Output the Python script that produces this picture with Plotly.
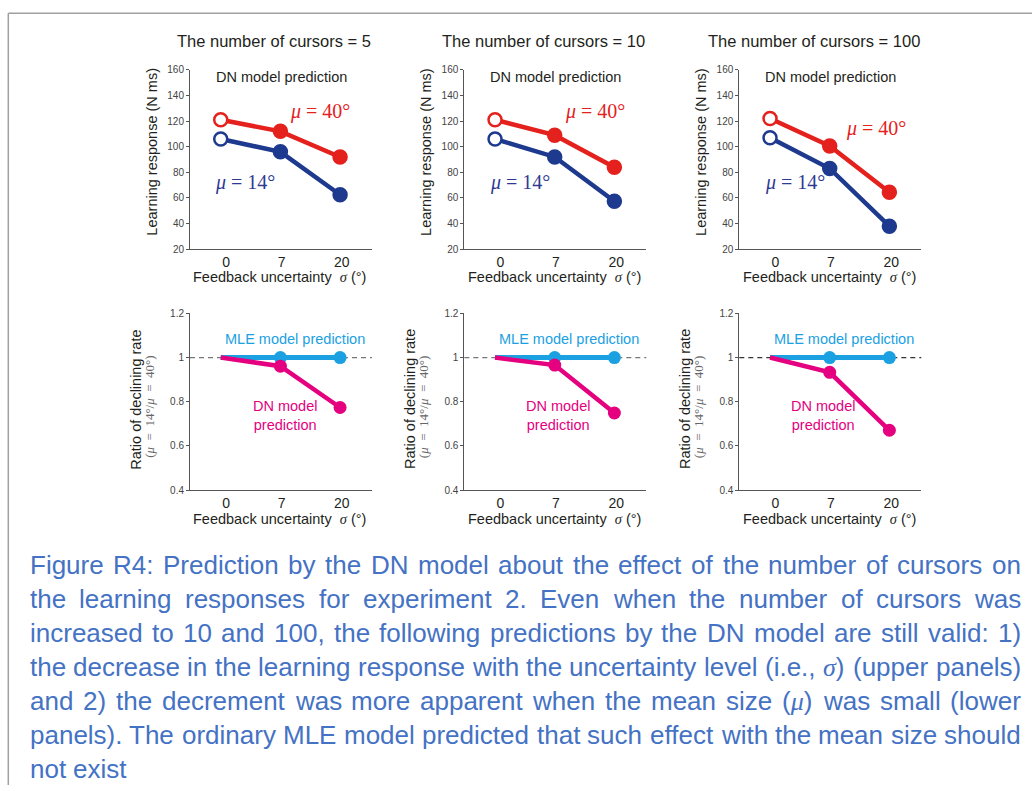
import plotly.graph_objects as go

W, H = 1032, 791

# ---------------- data ----------------
CURSORS = [5, 10, 100]
SIGMA_LABELS = ["0", "7", "20"]
SIGMA_IDX = [0, 1, 2]

# upper panels: learning response (N ms), DN model prediction
RESP_MU40 = [[121, 112, 92], [121, 109, 84], [122, 100.5, 64.5]]
RESP_MU14 = [[106, 96, 62.5], [106, 92, 57.5], [107, 83, 38]]

# lower panels: ratio of declining rate (mu=14 / mu=40)
RATIO_DN = [[1.0, 0.961, 0.774], [1.0, 0.966, 0.749], [1.0, 0.933, 0.671]]
RATIO_MLE = [[1.0, 1.0, 1.0], [1.0, 1.0, 1.0], [1.0, 1.0, 1.0]]

Y_TOP_TICKS = [20, 40, 60, 80, 100, 120, 140, 160]
Y_BOT_TICKS = [0.4, 0.6, 0.8, 1.0, 1.2]
Y_BOT_TICKTEXT = ["0.4", "0.6", "0.8", "1", "1.2"]

CAPTION_LINES = [
    "Figure R4: Prediction by the DN model about the effect of the number of cursors on",
    "the learning responses for experiment 2. Even when the number of cursors was",
    "increased to 10 and 100, the following predictions by the DN model are still valid: 1)",
    "the decrease in the learning response with the uncertainty level (i.e., σ) (upper panels)",
    "and 2) the decrement was more apparent when the mean size (μ) was small (lower",
    "panels). The ordinary MLE model predicted that such effect with the mean size should",
    "not exist",
]

# ---------------- style / layout ----------------
SANS = "Liberation Sans, Arial, sans-serif"
SERIF = "Liberation Serif, Times New Roman, serif"
RED = "#E4211C"
NAVY = "#1E3A8F"
NAVY_TXT = "#2E3A92"
CYAN = "#1BA1E2"
MAGENTA = "#E4007F"
DARK = "#231F20"
CAP_COLOR = "#4472C4"

COL_LEFT = [190, 464.3, 739.3]
AX_W = 182
ROWS = [(65.7, 247.7), (312.7, 492.0)]
X_RANGE = [-0.515, 2.535]
TICK_POS = [0.09, 1.02, 2.03]
NB = "\u00a0"


def px(x):
    return x / W


def py(y):
    return 1 - y / H


def ann(text, x, y, size, color, family=SANS, xanchor="center", yanchor="middle", angle=0):
    return dict(text=text, x=px(x), y=py(y), xref="paper", yref="paper", showarrow=False,
                font=dict(size=size, color=color, family=family), xanchor=xanchor,
                yanchor=yanchor, textangle=angle, borderpad=0, borderwidth=0)


fig = go.Figure()
layout = dict(width=W, height=H, margin=dict(l=0, r=0, t=0, b=0),
              paper_bgcolor="white", plot_bgcolor="white", showlegend=False,
              font=dict(family=SANS, color=DARK))
annotations = []
shapes = []

sig_html = "<span style='font-family:Liberation Serif'><i>σ</i></span>"
ratio_lbl = (f"(<i>μ</i>{NB}{NB}={NB}{NB}14°/<i>μ</i>{NB}{NB}={NB}{NB}40°)")

for r in range(2):
    for c in range(3):
        k = r * 3 + c + 1
        xa = "x" if k == 1 else f"x{k}"
        ya = "y" if k == 1 else f"y{k}"
        L = COL_LEFT[c]
        top, bot = ROWS[r]
        layout["xaxis" if k == 1 else f"xaxis{k}"] = dict(
            domain=[px(L), px(L + AX_W)], anchor=ya, range=X_RANGE,
            showline=True, linecolor="#555", linewidth=1, ticks="",
            tickvals=TICK_POS, ticktext=SIGMA_LABELS,
            tickfont=dict(size=14, color=DARK), showgrid=False, zeroline=False)
        if r == 0:
            yax = dict(range=[20, 160], tickvals=Y_TOP_TICKS)
        else:
            yax = dict(range=[0.4, 1.2], tickvals=Y_BOT_TICKS, ticktext=Y_BOT_TICKTEXT)
        yax.update(domain=[py(bot), py(top)], anchor=xa, showline=True, linecolor="#555",
                   linewidth=1, ticks="outside", ticklen=3, tickcolor="#555",
                   tickfont=dict(size=10, color="#444"), showgrid=False, zeroline=False)
        layout["yaxis" if k == 1 else f"yaxis{k}"] = yax

        if r == 0:
            fig.add_trace(go.Scatter(
                x=SIGMA_IDX, y=RESP_MU40[c], xaxis=xa, yaxis=ya, mode="lines+markers",
                line=dict(color=RED, width=4.5),
                marker=dict(size=13, opacity=1, color=["white", RED, RED],
                            line=dict(color=RED, width=2.5))))
            fig.add_trace(go.Scatter(
                x=SIGMA_IDX, y=RESP_MU14[c], xaxis=xa, yaxis=ya, mode="lines+markers",
                line=dict(color=NAVY, width=4.5),
                marker=dict(size=13, opacity=1, color=["white", NAVY, NAVY],
                            line=dict(color=NAVY, width=2.5))))
            annotations.append(ann(f"The number of cursors = {CURSORS[c]}", L + 180.5, 36.5, 16.5,
                                   DARK, xanchor="right"))
            annotations.append(ann("DN model prediction", L + 91, 73.5, 14.5, DARK))
            mu40_pos = [(129.5, 108), (130.2, 108), (137, 125)][c]
            annotations.append(ann("<i>μ</i> = 40°", L + mu40_pos[0], mu40_pos[1], 20, RED,
                                   family=SERIF))
            annotations.append(ann("<i>μ</i> = 14°", L + 55.3, 180, 20, NAVY_TXT, family=SERIF))
            annotations.append(ann("Learning response (N ms)", L - 38.3, 149, 14.5, DARK, angle=-90))
            annotations.append(ann(f"Feedback uncertainty  {sig_html} (°)", L + 89.7, 276, 14.5, DARK))
        else:
            dash_col = "#777" if c < 2 else "#333"
            shapes.append(dict(type="line", xref=f"{xa} domain", yref=ya, x0=0, x1=1, y0=1, y1=1,
                               line=dict(color=dash_col, width=1.2, dash="5px,4px"), layer="below"))
            fig.add_trace(go.Scatter(
                x=SIGMA_IDX, y=RATIO_MLE[c], xaxis=xa, yaxis=ya, mode="lines+markers",
                line=dict(color=CYAN, width=5),
                marker=dict(size=[0, 13, 13], opacity=1, color=CYAN, line=dict(width=0))))
            fig.add_trace(go.Scatter(
                x=SIGMA_IDX, y=RATIO_DN[c], xaxis=xa, yaxis=ya, mode="lines+markers",
                line=dict(color=MAGENTA, width=4.5),
                marker=dict(size=[0, 13, 13], opacity=1, color=MAGENTA, line=dict(width=0))))
            annotations.append(ann("MLE model prediction", L + 104.5, 338.5, 14.5, CYAN))
            dn_x = [95, 94, 84][c]
            annotations.append(ann("DN model<br>prediction", L + dn_x, 416, 14.5, MAGENTA))
            annotations.append(ann("Ratio of declining rate", L - 53.7, 400, 14.5, DARK, angle=-90))
            annotations.append(ann(ratio_lbl, L - 40.5, 408, 13, "#666",
                                   family=SERIF, angle=-90))
            annotations.append(ann(f"Feedback uncertainty  {sig_html} (°)", L + 89.7, 521.5, 14.5, DARK))

# ---------------- justified caption ----------------
CW = {}
for ch, w in zip("abcdefghijklmnopqrstuvwxyz",
                 [556, 556, 500, 556, 556, 278, 556, 556, 222, 222, 500, 222, 833, 556, 556, 556,
                  556, 333, 500, 278, 556, 500, 722, 500, 500, 500]):
    CW[ch] = w
for ch, w in zip("ABCDEFGHIJKLMNOPQRSTUVWXYZ",
                 [667, 667, 722, 722, 667, 611, 778, 722, 278, 500, 667, 556, 833, 722, 778, 667,
                  778, 722, 667, 611, 722, 667, 944, 667, 667, 611]):
    CW[ch] = w
for ch in "0123456789":
    CW[ch] = 556
CW.update({" ": 278, ".": 278, ",": 278, ":": 278, "(": 333, ")": 333, "-": 333,
           "σ": 560, "μ": 560})

CAP_FS = 26
CAP_L, CAP_R = 29.5, 1021
CAP_Y0, CAP_DY = 568, 34.4


def word_w(s):
    return sum(CW.get(ch, 556) for ch in s) / 1000 * CAP_FS


def word_html(s):
    return (s.replace("σ", "<span style='font-family:Liberation Serif'><i>σ</i></span>")
             .replace("μ", "<span style='font-family:Liberation Serif'><i>μ</i></span>"))


for i, line in enumerate(CAPTION_LINES):
    y = CAP_Y0 + i * CAP_DY
    words = line.split(" ")
    widths = [word_w(w) for w in words]
    if i < len(CAPTION_LINES) - 1 and len(words) > 1:
        gap = (CAP_R - CAP_L - sum(widths)) / (len(words) - 1)
    else:
        gap = CW[" "] / 1000 * CAP_FS
    x = CAP_L
    for j, (wd, ww) in enumerate(zip(words, widths)):
        if i < len(CAPTION_LINES) - 1 and j == len(words) - 1:
            annotations.append(ann(word_html(wd), CAP_R, y, CAP_FS, CAP_COLOR, xanchor="right"))
        else:
            annotations.append(ann(word_html(wd), x, y, CAP_FS, CAP_COLOR, xanchor="left"))
        x += ww + gap

# frame lines
shapes.append(dict(type="line", xref="paper", yref="paper", x0=px(8.3), x1=1, y0=py(8.3), y1=py(8.3),
                   line=dict(color="#A0A0A0", width=1.5)))
shapes.append(dict(type="line", xref="paper", yref="paper", x0=px(8.3), x1=px(8.3), y0=0, y1=py(8.3),
                   line=dict(color="#A0A0A0", width=1.5)))

layout["annotations"] = annotations
layout["shapes"] = shapes
fig.update_layout(**layout)

fig.write_html("out.html", config={"displayModeBar": False},
               post_script="document.body.style.margin='0';document.body.style.overflow='hidden';")
